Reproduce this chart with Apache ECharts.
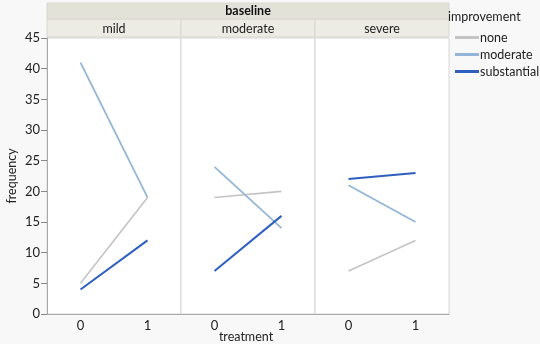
<!DOCTYPE html>
<html>
<head>
<meta charset="utf-8">
<script src="https://cdn.jsdelivr.net/npm/echarts@6/dist/echarts.min.js"></script>
<style>html,body{margin:0;padding:0;background:#f8f8f8;}#c{width:540px;height:344px;}</style>
</head>
<body>
<div id="c"></div>
<script>
const panels = ['mild', 'moderate', 'severe'];
const treatments = ['0', '1'];
const levels = ['none', 'moderate', 'substantial'];
const noneVals = [[5, 19], [19, 20], [7, 12]];
const moderateVals = [[41, 19], [24, 14], [21, 15]];
const substantialVals = [[4, 12], [7, 16], [22, 23]];
const yTicks = [0, 5, 10, 15, 20, 25, 30, 35, 40, 45];

const colors = {none: '#c4c4c4', moderate: '#93b6d8', substantial: '#2e5fbf'};
const widths = {none: 1.6, moderate: 1.8, substantial: 2};
const valsBy = {none: noneVals, moderate: moderateVals, substantial: substantialVals};

const left0 = 47, pw = 134, top0 = 38, ph = 276;
const FONT = 'Lato';

const grids = [], xAxes = [], yAxes = [], series = [], graphics = [];
panels.forEach((p, i) => {
  grids.push({left: left0 + i * pw, top: top0, width: pw, height: ph, show: true,
    backgroundColor: '#ffffff', borderColor: '#d4d4d4', borderWidth: 1});
  xAxes.push({type: 'category', gridIndex: i, data: treatments, boundaryGap: true,
    axisLine: {lineStyle: {color: '#aaaaaa'}}, axisTick: {show: false},
    axisLabel: {color: '#222', fontSize: 13, fontFamily: FONT, margin: 5},
    splitLine: {show: false}});
  yAxes.push({type: 'value', gridIndex: i, min: 0, max: 45, interval: 5,
    axisLine: {show: i === 0, lineStyle: {color: '#aaaaaa'}},
    axisTick: {show: i === 0, length: 6, lineStyle: {color: '#888'}},
    axisLabel: {show: i === 0, color: '#222', fontSize: 13, fontFamily: FONT, margin: 7,
      formatter: v => yTicks.includes(v) ? String(v) : ''},
    splitLine: {show: false}});
  levels.forEach(l => {
    series.push({type: 'line', name: l, xAxisIndex: i, yAxisIndex: i,
      data: valsBy[l][i], symbol: 'none', color: colors[l],
      lineStyle: {color: colors[l], width: widths[l]}, z: l === 'substantial' ? 3 : 2});
  });
  graphics.push({type: 'rect', shape: {x: left0 + i * pw, y: 19, width: pw, height: 18},
    style: {fill: '#ecebe4', stroke: '#d8d7d0', lineWidth: 1}});
  graphics.push({type: 'text', x: left0 + i * pw + pw / 2, y: 29,
    style: {text: p, fill: '#222', font: '12.5px "' + FONT + '"', textAlign: 'center', textVerticalAlign: 'middle'}});
});
graphics.push({type: 'rect', shape: {x: left0, y: 3, width: 3 * pw, height: 16},
  style: {fill: '#e3e2d9', stroke: '#d8d7d0', lineWidth: 1}});
graphics.push({type: 'text', x: left0 + 1.5 * pw, y: 11,
  style: {text: 'baseline', fill: '#111', font: 'bold 12.5px "' + FONT + '"', textAlign: 'center', textVerticalAlign: 'middle'}});
graphics.push({type: 'text', x: 448, y: 17,
  style: {text: 'improvement', fill: '#222', font: '12.5px "' + FONT + '"', textAlign: 'left', textVerticalAlign: 'middle'}});
graphics.push({type: 'text', x: 246, y: 337,
  style: {text: 'treatment', fill: '#222', font: '12.5px "' + FONT + '"', textAlign: 'center', textVerticalAlign: 'middle'}});
graphics.push({type: 'text', x: 12, y: 176, rotation: Math.PI / 2,
  style: {text: 'frequency', fill: '#222', font: '12.5px "' + FONT + '"', textAlign: 'center', textVerticalAlign: 'middle'}});

const chart = echarts.init(document.getElementById('c'), null, {renderer: 'canvas'});
chart.setOption({
  backgroundColor: '#f8f8f8',
  animation: false,
  grid: grids, xAxis: xAxes, yAxis: yAxes, series: series,
  legend: {data: levels, orient: 'vertical', left: 450, top: 26, itemGap: 4,
    itemWidth: 24, itemHeight: 3, icon: 'rect',
    textStyle: {color: '#222', fontSize: 12.5, fontFamily: FONT, padding: [0, 0, 0, -4]}},
  graphic: graphics
});
</script>
</body>
</html>
